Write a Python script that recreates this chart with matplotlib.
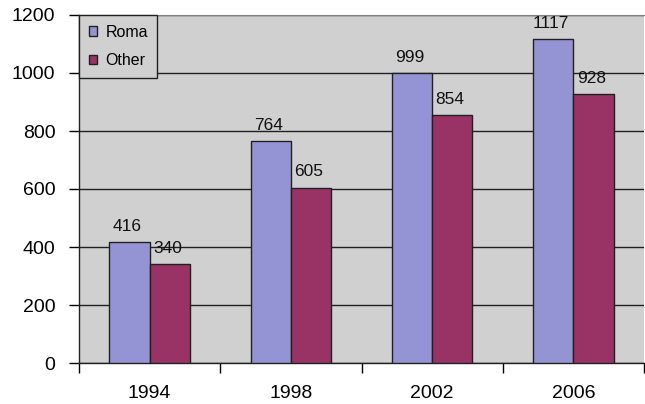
import numpy as np
import matplotlib.pyplot as plt
from matplotlib.patches import Patch

years = ["1994", "1998", "2002", "2006"]
roma = [416, 764, 999, 1117]
other = [340, 605, 854, 928]

plt.rcParams["font.family"] = ["Liberation Sans", "DejaVu Sans"]

fig = plt.figure(figsize=(6.45, 4.04), dpi=100)
ax = fig.add_axes([79 / 645, 41 / 404, 565 / 645, 348 / 404])
ax.set_facecolor("#D0D0D0")

x = np.arange(len(years))
w = 0.285
b1 = ax.bar(x - w / 2, roma, w, color="#9494D4", edgecolor="#202020", linewidth=1, zorder=3)
b2 = ax.bar(x + w / 2, other, w, color="#993366", edgecolor="#202020", linewidth=1, zorder=3)

# value labels above the bars
for rects, vals in ((b1, roma), (b2, other)):
    for r, v in zip(rects, vals):
        ax.annotate(str(v), (r.get_x() + r.get_width() / 2, v), xytext=(-1.5, 6),
                    textcoords="offset points", ha="center", va="bottom",
                    fontsize=12.5, color="#111111", zorder=4)

ax.set_xlim(-0.5, len(years) - 0.5)
ax.set_ylim(0, 1200)
ax.set_yticks(np.arange(0, 1201, 200))
ax.yaxis.grid(True, color="#202020", linewidth=1, zorder=1)
ax.set_axisbelow(True)

# category labels between boundary ticks
ax.set_xticks(np.arange(-0.5, len(years)))
ax.set_xticklabels([])
ax.set_xticks(x, minor=True)
ax.set_xticklabels(years, minor=True, fontsize=14)
ax.tick_params(axis="x", which="minor", length=0, pad=16)
ax.tick_params(axis="x", which="major", length=7, width=1, direction="out")
ax.tick_params(axis="y", length=7, width=1, direction="out", labelsize=14, pad=10)

for s in ("left", "bottom"):
    ax.spines[s].set_color("#202020")
    ax.spines[s].set_linewidth(1)
ax.spines["top"].set_color("#808080")
ax.spines["right"].set_visible(False)

handles = [Patch(facecolor="#9494D4", edgecolor="#202020"), Patch(facecolor="#993366", edgecolor="#202020")]
leg = ax.legend(handles, ["Roma", "Other"], loc="upper left", bbox_to_anchor=(0, 1),
                borderaxespad=0, fancybox=False, framealpha=1, facecolor="#D0D0D0",
                edgecolor="#202020", fontsize=11.5, handlelength=0.55, handleheight=0.55,
                labelspacing=0.85, borderpad=0.6, handletextpad=0.5)
leg.get_frame().set_linewidth(1)
leg.set_zorder(5)

fig.savefig("out.png", dpi=100)
